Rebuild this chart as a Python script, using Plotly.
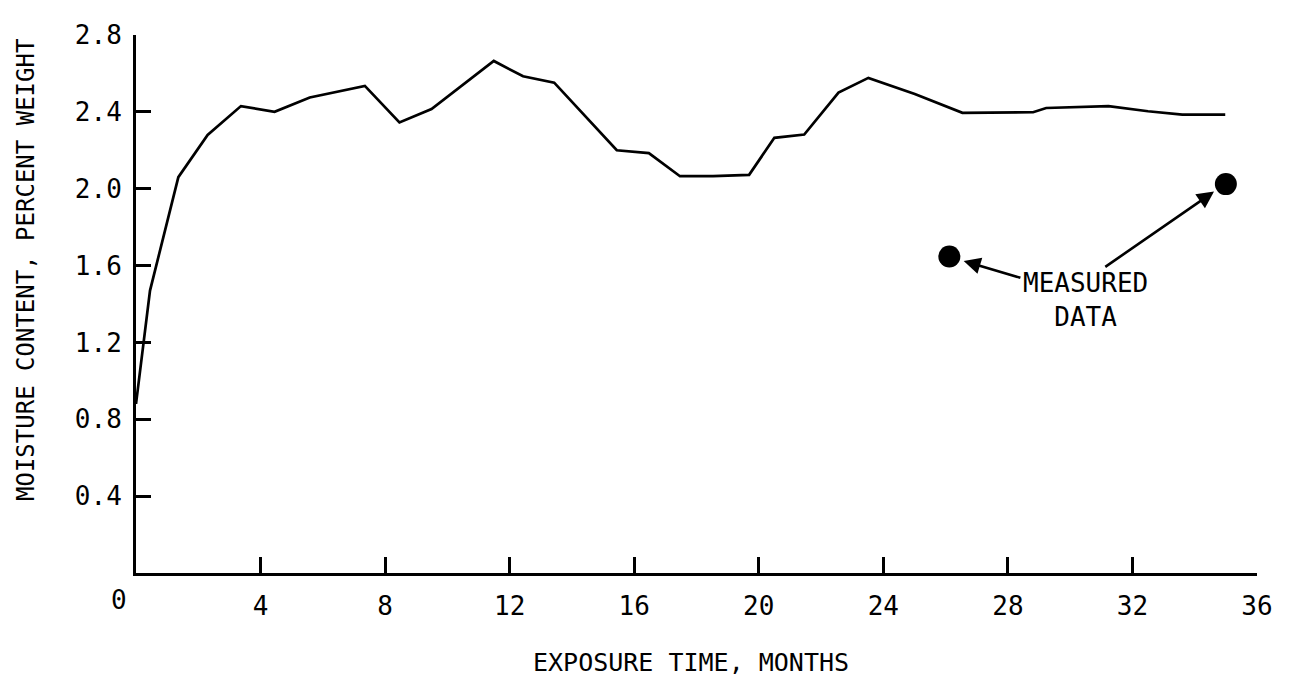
import plotly.graph_objects as go

# Predicted moisture content curve (months, percent weight)
months = [0, 0.45, 1.36, 2.3, 3.37, 4.45, 5.58, 7.35, 8.46, 9.49, 11.49, 12.43,
          13.43, 15.44, 16.47, 17.47, 18.53, 19.69, 20.5, 21.46, 22.56, 23.52,
          25.01, 26.54, 28.81, 29.23, 31.23, 32.5, 33.6, 34.98]
moisture = [0.88, 1.47, 2.06, 2.28, 2.43, 2.40, 2.475, 2.535, 2.345, 2.415, 2.665, 2.585,
            2.552, 2.20, 2.185, 2.065, 2.066, 2.072, 2.265, 2.282, 2.50, 2.577,
            2.493, 2.395, 2.398, 2.42, 2.43, 2.403, 2.386, 2.386]

# Measured data
measured_months = [26.12, 35.0]
measured_moisture = [1.647, 2.024]

x_ticks = [4, 8, 12, 16, 20, 24, 28, 32, 36]
y_ticks = [0.4, 0.8, 1.2, 1.6, 2.0, 2.4, 2.8]
y_tick_text = ["0.4", "0.8", "1.2", "1.6", "2.0", "2.4", "2.8"]

label_pos = (30.5, 1.42)
arrow_heads = [(26.58, 1.624), (34.62, 1.985)]
arrow_tails = [(28.45, 1.534), (31.08, 1.588)]

FONT = "DejaVu Sans Mono"

# page has an 8px body margin on every side; keep the figure inside the viewport
OFF = 8
W, H = 1293 - 2 * OFF, 684 - 2 * OFF
ml = 136 - OFF
mt = 20 - OFF
mr = W - (1273 - OFF)
mb = H - (573 - OFF)

fig = go.Figure()
fig.add_trace(go.Scatter(x=months, y=moisture, mode="lines",
                         line=dict(color="black", width=2.7), showlegend=False,
                         cliponaxis=False))
fig.add_trace(go.Scatter(x=measured_months, y=measured_moisture, mode="markers",
                         marker=dict(color="black", size=22), showlegend=False,
                         cliponaxis=False))

plot_w = W - ml - mr
plot_h = H - mt - mb

annotations = [
    dict(x=label_pos[0], y=label_pos[1], xref="x", yref="y", text="MEASURED<br>DATA",
         showarrow=False, font=dict(family=FONT, size=26, color="black"), align="center"),
    dict(x=0, y=0, xref="x", yref="y", text="0", showarrow=False, xshift=-17,
         yanchor="middle", yshift=-27, font=dict(family=FONT, size=26, color="black")),
    dict(x=-(ml - (25 - OFF)) / plot_w, y=(H - mb - (262 - OFF)) / plot_h,
         xref="paper", yref="paper", xanchor="center", yanchor="middle",
         text="MOISTURE CONTENT, PERCENT WEIGHT",
         showarrow=False, textangle=-90, font=dict(family=FONT, size=24, color="black")),
    dict(x=(699 - OFF - ml) / plot_w, y=-(665 - 573) / plot_h,
         xref="paper", yref="paper", xanchor="center", yanchor="middle",
         text="EXPOSURE TIME, MONTHS",
         showarrow=False, font=dict(family=FONT, size=25, color="black")),
]
for (hx, hy), (tx, ty) in zip(arrow_heads, arrow_tails):
    annotations.append(dict(x=hx, y=hy, ax=tx, ay=ty, xref="x", yref="y", axref="x", ayref="y",
                            text="", showarrow=True, arrowhead=2, arrowsize=1.3,
                            arrowwidth=2.6, arrowcolor="black"))

fig.update_layout(
    width=W, height=H,
    margin=dict(l=ml, r=mr, t=mt, b=mb, pad=0),
    plot_bgcolor="white", paper_bgcolor="white",
    font=dict(family=FONT, size=26, color="black"),
    annotations=annotations,
    xaxis=dict(range=[0, 36], tickvals=x_ticks, ticktext=[str(v) for v in x_ticks],
               ticks="inside", ticklen=16, tickwidth=2.5, tickcolor="black",
               showline=True, linewidth=3, linecolor="black", showgrid=False,
               zeroline=False, ticklabelstandoff=8, ticklabeloverflow="allow"),
    yaxis=dict(range=[0, 2.8], tickvals=y_ticks, ticktext=y_tick_text,
               ticks="inside", ticklen=15, tickwidth=2.5, tickcolor="black",
               showline=True, linewidth=3, linecolor="black", showgrid=False,
               zeroline=False, ticklabelstandoff=6, ticklabeloverflow="allow"),
)

fig.write_html("out.html")
